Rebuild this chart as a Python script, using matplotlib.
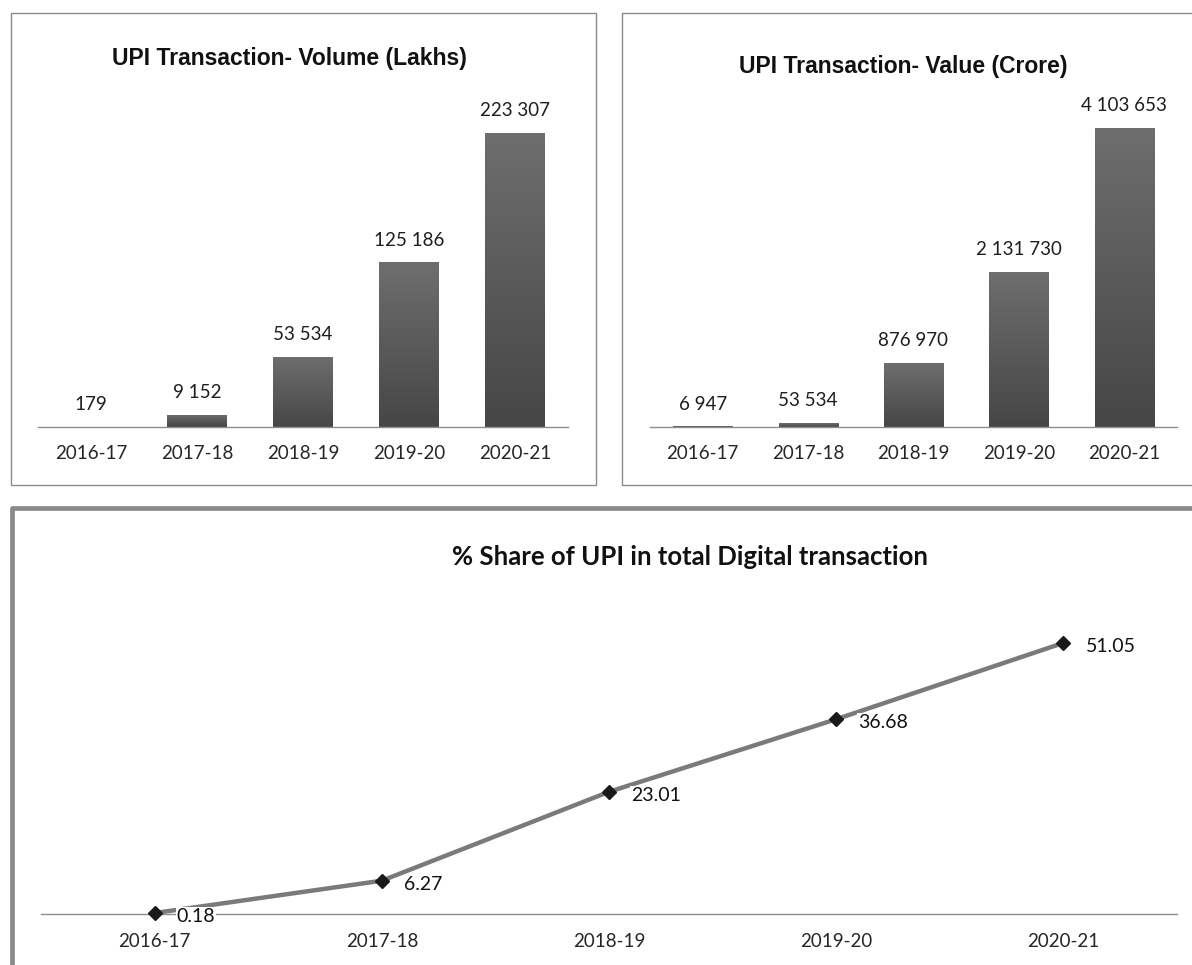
import numpy as np
import matplotlib
matplotlib.use('Agg')
import matplotlib.pyplot as plt
from matplotlib.lines import Line2D
from matplotlib.colors import LinearSegmentedColormap

# dados
anos = ['2016-17', '2017-18', '2018-19', '2019-20', '2020-21']
volume_lakhs = [179, 9152, 53534, 125186, 223307]
valor_crore = [6947, 53534, 876970, 2131730, 4103653]
share_upi = [0.18, 6.27, 23.01, 36.68, 51.05]

plt.rcParams['font.family'] = ['Lato', 'DejaVu Sans']

W, H = 1192, 965
fig = plt.figure(figsize=(W / 100, H / 100), dpi=100)


def caixa(x0, y0, x1, y1):
    # pixels (origem em cima) -> fracao da figura
    return [x0 / W, 1 - y1 / H, (x1 - x0) / W, (y1 - y0) / H]


def linha(xs, ys, cor='#8c8c8c', lw=1.0):
    fig.add_artist(Line2D([x / W for x in xs], [1 - y / H for y in ys],
                          transform=fig.transFigure, color=cor, lw=lw,
                          solid_capstyle='butt'))


def formata(v):
    return f'{v:,}'.replace(',', ' ')


cmap = LinearSegmentedColormap.from_list('barra', ['#464646', '#6e6e6e'])


def grafico_barras(ax, valores, ymax):
    xs = np.arange(len(valores))
    barras = ax.bar(xs, valores, width=0.56, color='none', edgecolor='none')
    grad = np.linspace(0, 1, 256).reshape(-1, 1)
    for b in barras:
        x0, w, h = b.get_x(), b.get_width(), b.get_height()
        im = ax.imshow(grad, extent=(x0, x0 + w, 0, h), origin='lower',
                       cmap=cmap, aspect='auto', zorder=2)
        im.set_clip_path(b)
    for x, v in zip(xs, valores):
        ax.annotate(formata(v), (x, v), xytext=(0, 12), textcoords='offset points',
                    ha='center', va='baseline', fontsize=13.5, color='#1e1e1e')
    ax.set_xlim(-0.5, len(valores) - 0.5)
    ax.set_ylim(0, ymax)
    ax.set_xticks(xs, anos)
    ax.set_yticks([])
    ax.tick_params(axis='x', length=0, pad=13, labelsize=13.5, labelcolor='#262626')
    for s in ['top', 'left', 'right']:
        ax.spines[s].set_visible(False)
    ax.spines['bottom'].set_color('#8e8e8e')
    ax.spines['bottom'].set_linewidth(1.0)
    ax.patch.set_alpha(0)


# --- volume ---
ax1 = fig.add_axes(caixa(38, 100, 568, 427))
grafico_barras(ax1, volume_lakhs, 223307 * 327 / 294)
fig.text(289 / W, 1 - 58 / H, 'UPI Transaction- Volume (Lakhs)', ha='center', va='center',
         family='Liberation Sans', fontweight='bold', fontsize=16.5, color='#111111')

# --- valor ---
ax2 = fig.add_axes(caixa(650, 100, 1177, 427))
grafico_barras(ax2, valor_crore, 4103653 * 327 / 299)
fig.text(903 / W, 1 - 66 / H, 'UPI Transaction- Value (Crore)', ha='center', va='center',
         family='Liberation Sans', fontweight='bold', fontsize=16.5, color='#111111')

# molduras de cima
linha([10.5, 596.5, 596.5, 10.5, 10.5], [12.5, 12.5, 484.5, 484.5, 12.5])
linha([1192, 622.5, 622.5, 1192], [12.5, 12.5, 484.5, 484.5])

# --- % share ---
ax3 = fig.add_axes(caixa(41, 600, 1177, 914))
xs = np.arange(len(share_upi))
ax3.plot(xs, share_upi, color='#7a7a7a', lw=3.2, zorder=2, clip_on=False)
ax3.plot(xs, share_upi, 'D', color='#1a1a1a', ms=7.5, zorder=4, clip_on=False)
for x, v in zip(xs, share_upi):
    ax3.annotate(f'{v:.2f}', (x, v), xytext=(16, -2.5), textcoords='offset points',
                 ha='left', va='center', fontsize=14, color='#111111', zorder=3,
                 bbox=dict(boxstyle='square,pad=0.05', fc='white', ec='none'),
                 annotation_clip=False)
ax3.set_xlim(-0.5, len(share_upi) - 0.5)
ax3.set_ylim(0, 314 / 5.31)
ax3.set_xticks(xs, anos)
ax3.set_yticks([])
ax3.tick_params(axis='x', length=0, pad=14, labelsize=13.5, labelcolor='#262626')
for s in ['top', 'left', 'right']:
    ax3.spines[s].set_visible(False)
ax3.spines['bottom'].set_color('#8e8e8e')
ax3.spines['bottom'].set_linewidth(1.0)
ax3.spines['bottom'].set_zorder(1)
ax3.patch.set_alpha(0)
fig.text(690 / W, 1 - 557 / H, '% Share of UPI in total Digital transaction', ha='center',
         va='center', fontweight='bold', fontsize=18.5, color='#111111')

# moldura grossa de baixo
linha([12, 12, 1192], [965, 508, 508], cor='#8a8a8a', lw=3.4)

fig.savefig('out.png', dpi=100)
